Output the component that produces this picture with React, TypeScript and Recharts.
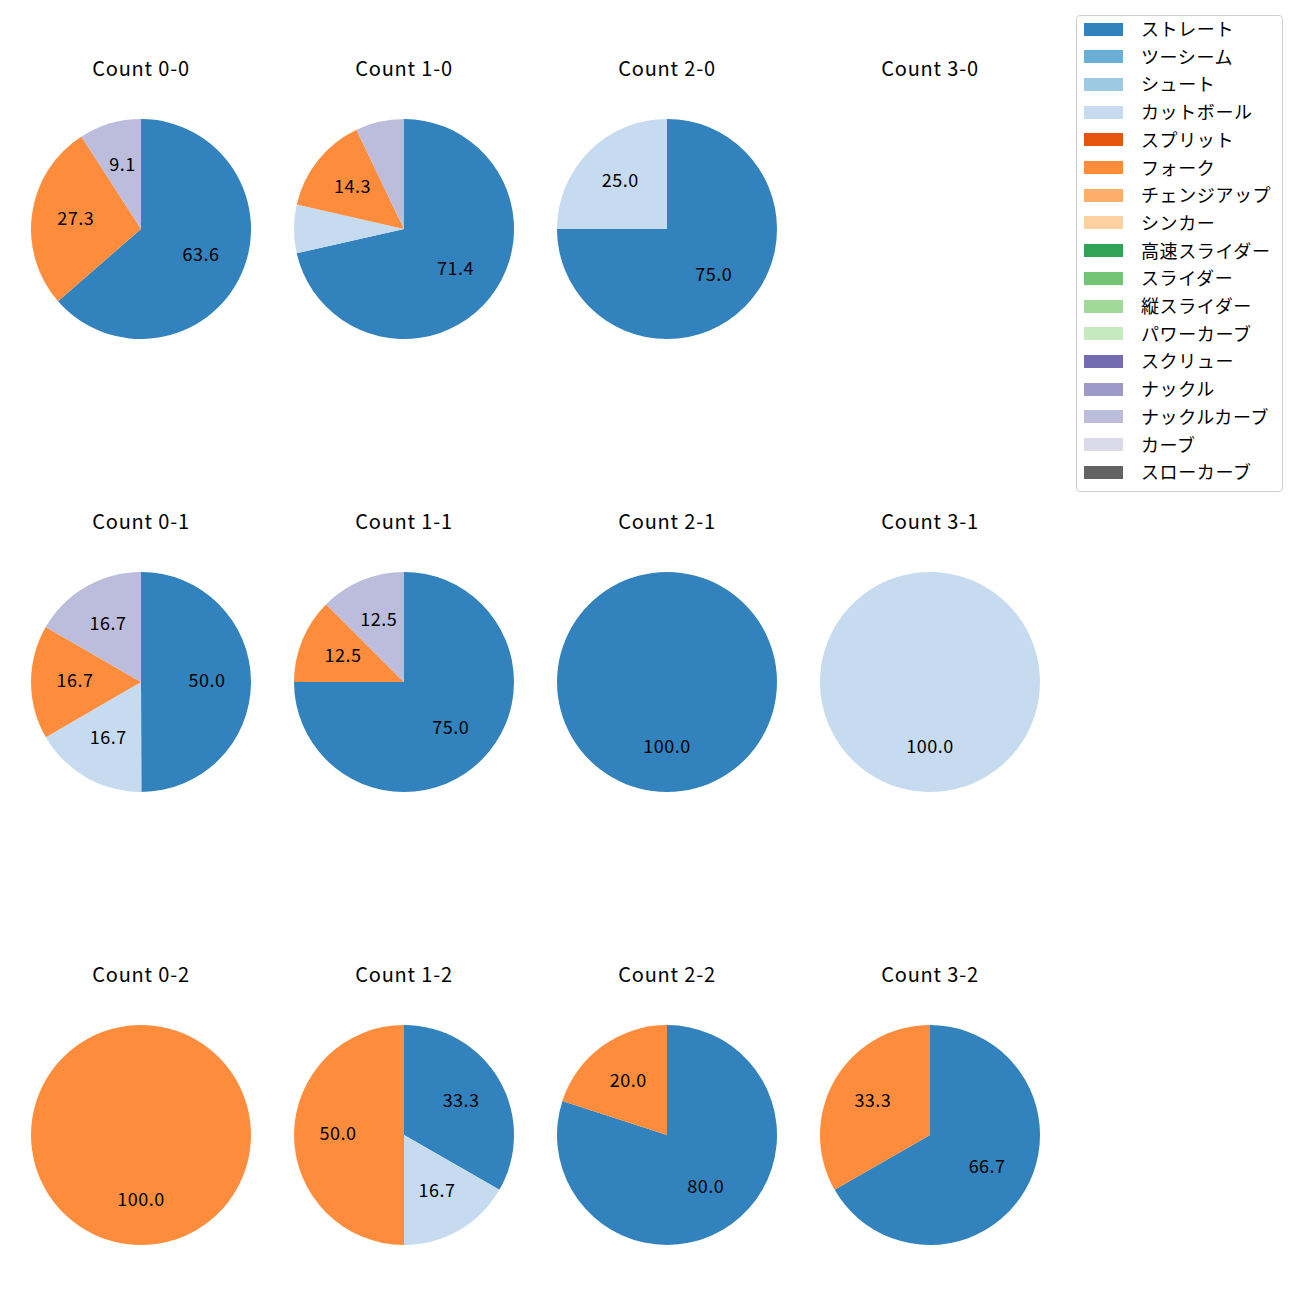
import React from 'react'
import {PieChart, Pie, Cell} from 'recharts'

// 球種（凡例の順）
const pitchTypes = [
  'ストレート',
  'ツーシーム',
  'シュート',
  'カットボール',
  'スプリット',
  'フォーク',
  'チェンジアップ',
  'シンカー',
  '高速スライダー',
  'スライダー',
  '縦スライダー',
  'パワーカーブ',
  'スクリュー',
  'ナックル',
  'ナックルカーブ',
  'カーブ',
  'スローカーブ'
]

const pitchColors = [
  '#3182bd', '#6baed6', '#9ecae1', '#c6dbef',
  '#e6550d', '#fd8d3c', '#fdae6b', '#fdd0a2',
  '#31a354', '#74c476', '#a1d99b', '#c7e9c0',
  '#756bb1', '#9e9ac8', '#bcbddc', '#dadaeb',
  '#636363'
]

// カウント別の球種割合 (%)
const count00: [string, number][] = [['ストレート', 63.6], ['フォーク', 27.3], ['ナックルカーブ', 9.1]]
const count10: [string, number][] = [['ストレート', 71.4], ['カットボール', 7.1], ['フォーク', 14.3], ['ナックルカーブ', 7.1]]
const count20: [string, number][] = [['ストレート', 75.0], ['カットボール', 25.0]]
const count30: [string, number][] = []
const count01: [string, number][] = [['ストレート', 50.0], ['カットボール', 16.7], ['フォーク', 16.7], ['ナックルカーブ', 16.7]]
const count11: [string, number][] = [['ストレート', 75.0], ['フォーク', 12.5], ['ナックルカーブ', 12.5]]
const count21: [string, number][] = [['ストレート', 100.0]]
const count31: [string, number][] = [['カットボール', 100.0]]
const count02: [string, number][] = [['フォーク', 100.0]]
const count12: [string, number][] = [['ストレート', 33.3], ['カットボール', 16.7], ['フォーク', 50.0]]
const count22: [string, number][] = [['ストレート', 80.0], ['フォーク', 20.0]]
const count32: [string, number][] = [['ストレート', 66.7], ['フォーク', 33.3]]

const countTitles = [
  ['Count 0-0', 'Count 1-0', 'Count 2-0', 'Count 3-0'],
  ['Count 0-1', 'Count 1-1', 'Count 2-1', 'Count 3-1'],
  ['Count 0-2', 'Count 1-2', 'Count 2-2', 'Count 3-2']
]
const countData = [
  [count00, count10, count20, count30],
  [count01, count11, count21, count31],
  [count02, count12, count22, count32]
]

const FONT = '"Noto Sans CJK JP", "Noto Sans", sans-serif'
const colCenters = [141, 404, 667, 930]
const rowCenters = [229, 682, 1135]
const R = 110
const BOX = 240

const RAD = Math.PI / 180

const renderLabel = (props: any) => {
  const {cx, cy, midAngle, outerRadius, value} = props
  if (value < 8) return null
  const r = outerRadius * 0.6
  const x = cx + r * Math.cos(midAngle * RAD)
  const y = cy - r * Math.sin(midAngle * RAD) - 3
  return (
    <text
      x={x}
      y={y}
      textAnchor='middle'
      dominantBaseline='central'
      fill='#000'
      fontSize={18}
      letterSpacing={0.5}
      fontFamily={FONT}
    >
      {Number(value).toFixed(1)}
    </text>
  )
}

const CountPie: React.FC<{title: string; rows: [string, number][]; x: number; y: number}> = ({title, rows, x, y}) => {
  const data = rows.map(([name, value]) => ({name, value}))
  return (
    <>
      <div
        style={{
          position: 'absolute',
          left: x - 100,
          top: y - 173,
          width: 200,
          textAlign: 'center',
          fontSize: 20,
          letterSpacing: 0.8,
          lineHeight: '24px',
          color: '#000'
        }}
      >
        {title}
      </div>
      {data.length > 0 && (
        <div style={{position: 'absolute', left: x - BOX / 2, top: y - BOX / 2}}>
          <PieChart width={BOX} height={BOX} margin={{top: 0, right: 0, bottom: 0, left: 0}}>
            <Pie
              data={data}
              dataKey='value'
              nameKey='name'
              cx='50%'
              cy='50%'
              outerRadius={R}
              startAngle={90}
              endAngle={-270}
              stroke='none'
              label={renderLabel}
              labelLine={false}
              isAnimationActive={false}
            >
              {data.map((d) => (
                <Cell key={d.name} fill={pitchColors[pitchTypes.indexOf(d.name)]} />
              ))}
            </Pie>
          </PieChart>
        </div>
      )}
    </>
  )
}

const PitchLegend: React.FC = () => (
  <div
    style={{
      position: 'absolute',
      left: 1076,
      top: 15,
      width: 205,
      height: 475,
      border: '1px solid #d0d0d0',
      borderRadius: 4,
      background: '#fff'
    }}
  >
    {pitchTypes.map((p, i) => (
      <div key={p} style={{position: 'absolute', left: 7, top: 6 + i * 27.7, height: 14, display: 'flex', alignItems: 'center'}}>
        <div style={{width: 39, height: 13, background: pitchColors[i]}} />
        <span
          style={{
            marginLeft: 18,
            fontSize: 18,
            letterSpacing: 0.6,
            lineHeight: '14px',
            whiteSpace: 'nowrap',
            color: '#000',
            position: 'relative',
            top: -1
          }}
        >
          {p}
        </span>
      </div>
    ))}
  </div>
)

const App: React.FC = () => {
  return (
    <div style={{position: 'absolute', left: 0, top: 0, width: 1300, height: 1300, background: '#fff', fontFamily: FONT}}>
      {countTitles.map((row, ri) =>
        row.map((title, ci) => (
          <CountPie key={title} title={title} rows={countData[ri][ci]} x={colCenters[ci]} y={rowCenters[ri]} />
        ))
      )}
      <PitchLegend />
    </div>
  )
}

export default App
